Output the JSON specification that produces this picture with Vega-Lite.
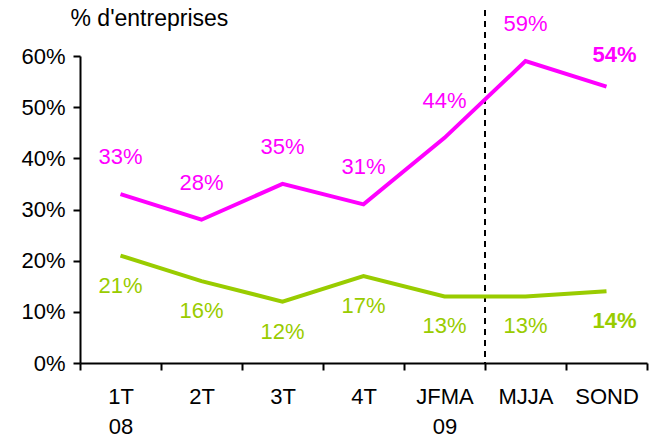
{
  "$schema": "https://vega.github.io/schema/vega-lite/v6.json",
  "autosize": "none",
  "width": 567,
  "height": 307,
  "padding": {"left": 80, "top": 56, "right": 11, "bottom": 76},
  "background": "white",
  "config": {
    "view": {"stroke": null},
    "font": "Liberation Sans",
    "text": {"font": "Liberation Sans"}
  },
  "data": {
    "values": [
      {"period": "1T 08", "series": "Baisse", "value": 0.33},
      {"period": "2T", "series": "Baisse", "value": 0.28},
      {"period": "3T", "series": "Baisse", "value": 0.35},
      {"period": "4T", "series": "Baisse", "value": 0.31},
      {"period": "JFMA 09", "series": "Baisse", "value": 0.44},
      {"period": "MJJA", "series": "Baisse", "value": 0.59},
      {"period": "SOND", "series": "Baisse", "value": 0.54},
      {"period": "1T 08", "series": "Hausse", "value": 0.21},
      {"period": "2T", "series": "Hausse", "value": 0.16},
      {"period": "3T", "series": "Hausse", "value": 0.12},
      {"period": "4T", "series": "Hausse", "value": 0.17},
      {"period": "JFMA 09", "series": "Hausse", "value": 0.13},
      {"period": "MJJA", "series": "Hausse", "value": 0.13},
      {"period": "SOND", "series": "Hausse", "value": 0.14}
    ]
  },
  "encoding": {
    "x": {
      "field": "period", "type": "nominal", "sort": null, "bandPosition": 0.5,
      "scale": {"type": "band", "paddingInner": 0, "paddingOuter": 0,
        "domain": ["1T 08", "2T", "3T", "4T", "JFMA 09", "MJJA", "SOND"]},
      "axis": {
        "title": null, "labelAngle": 0, "tickBand": "extent",
        "labelExpr": "split(datum.label, ' ')",
        "labelFontSize": 22, "labelColor": "black", "labelPadding": 16,
        "labelLineHeight": 30, "labelBaseline": "top",
        "domainColor": "black", "domainWidth": 2, "tickColor": "black",
        "tickWidth": 2, "tickSize": 7
      }
    },
    "y": {
      "field": "value", "type": "quantitative",
      "scale": {"domain": [0, 0.6], "nice": false, "zero": true},
      "axis": {
        "values": [0, 0.1, 0.2, 0.3, 0.4, 0.5, 0.6], "format": ".0%",
        "grid": false, "labelFontSize": 22, "labelColor": "black", "labelPadding": 8,
        "domainColor": "black", "domainWidth": 2, "tickColor": "black",
        "tickWidth": 2, "tickSize": 7,
        "title": "% d'entreprises", "titleAngle": 0, "titleAlign": "left",
        "titleBaseline": "middle", "titleX": -10, "titleY": -38,
        "titleFontSize": 23, "titleFontWeight": "normal", "titleColor": "black"
      }
    },
    "color": {
      "field": "series", "type": "nominal",
      "scale": {"domain": ["Baisse", "Hausse"], "range": ["#FF00FF", "#99CC00"]},
      "legend": null
    }
  },
  "layer": [
    {
      "transform": [{"filter": "datum.series == 'Baisse' && datum.period == 'MJJA'"}],
      "mark": {"type": "rule", "strokeDash": [6, 5], "strokeWidth": 2, "clip": false},
      "encoding": {
        "x": {"field": "period", "type": "nominal", "bandPosition": 0},
        "y": {"datum": 0.69},
        "y2": {"datum": 0},
        "color": {"value": "black"}
      }
    },
    {
      "mark": {"type": "line", "strokeWidth": 4},
      "encoding": {"detail": {"field": "series"}}
    },
    {
      "transform": [{"filter": "datum.series == 'Baisse' && datum.period != 'SOND'"}],
      "mark": {"type": "text", "dy": -37, "fontSize": 22, "baseline": "middle"},
      "encoding": {"text": {"field": "value", "format": ".0%"}}
    },
    {
      "transform": [{"filter": "datum.series == 'Baisse' && datum.period == 'SOND'"}],
      "mark": {"type": "text", "dy": -32, "dx": 8, "fontSize": 22, "fontWeight": "bold", "baseline": "middle"},
      "encoding": {"text": {"field": "value", "format": ".0%"}}
    },
    {
      "transform": [{"filter": "datum.series == 'Hausse' && datum.period != 'SOND'"}],
      "mark": {"type": "text", "dy": 30, "fontSize": 22, "baseline": "middle"},
      "encoding": {"text": {"field": "value", "format": ".0%"}}
    },
    {
      "transform": [{"filter": "datum.series == 'Hausse' && datum.period == 'SOND'"}],
      "mark": {"type": "text", "dy": 30, "dx": 8, "fontSize": 22, "fontWeight": "bold", "baseline": "middle"},
      "encoding": {"text": {"field": "value", "format": ".0%"}}
    },
    {
      "data": {"values": [{"name": "Baisse"}]},
      "mark": {"type": "text", "fontSize": 22, "fontWeight": "bold", "baseline": "middle", "dx": 7},
      "encoding": {
        "x": {"datum": "4T", "bandPosition": 0},
        "y": {"datum": 0.58},
        "text": {"field": "name"},
        "color": {"value": "#FF00FF"}
      }
    },
    {
      "data": {"values": [{"name": "Hausse"}]},
      "mark": {"type": "text", "fontSize": 22, "fontWeight": "bold", "baseline": "middle", "dx": 17},
      "encoding": {
        "x": {"datum": "3T", "bandPosition": 0.5},
        "y": {"datum": 0.244},
        "text": {"field": "name"},
        "color": {"value": "#99CC00"}
      }
    }
  ]
}
